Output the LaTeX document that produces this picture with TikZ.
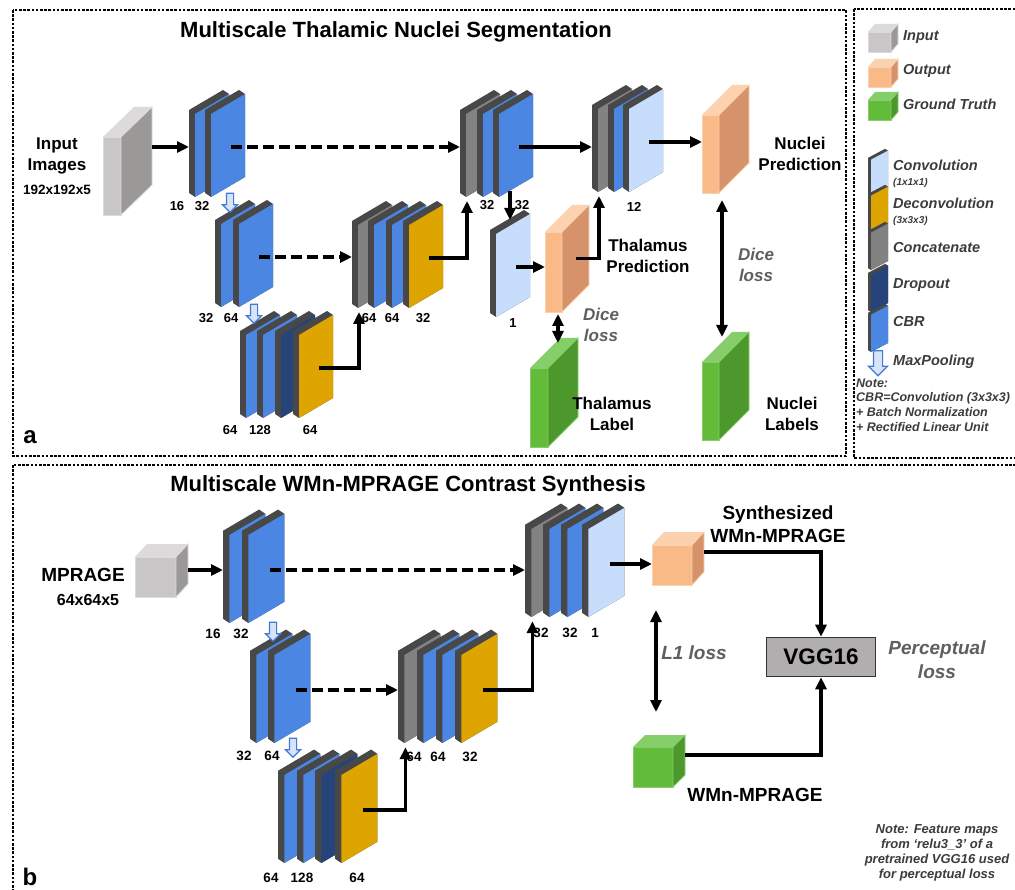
\documentclass[tikz,border=0pt]{standalone}
\usepackage{fontspec}
\setmainfont{Liberation Sans}
\usepackage{tikz}
\usetikzlibrary{arrows.meta,shapes.arrows,calc}
\definecolor{cbr}{RGB}{74,134,226}
\definecolor{edgegray}{RGB}{72,72,72}
\definecolor{concat}{RGB}{130,130,130}
\definecolor{drop}{RGB}{38,68,122}
\definecolor{deconv}{RGB}{222,165,0}
\definecolor{conv}{RGB}{198,222,252}
\definecolor{inF}{RGB}{200,198,198}
\definecolor{inS}{RGB}{155,152,152}
\definecolor{inT}{RGB}{220,218,218}
\definecolor{outF}{RGB}{250,186,135}
\definecolor{outS}{RGB}{214,146,106}
\definecolor{outT}{RGB}{252,210,174}
\definecolor{gtF}{RGB}{98,188,58}
\definecolor{gtS}{RGB}{76,152,44}
\definecolor{gtT}{RGB}{134,206,106}
\definecolor{poolblue}{RGB}{66,120,214}
\definecolor{poolfill}{RGB}{214,228,248}
\definecolor{lossgray}{RGB}{95,95,95}
\definecolor{leggray}{RGB}{60,60,60}
\definecolor{vggfill}{RGB}{176,174,174}
\tikzset{
  arr/.style={-{Triangle[length=12pt,width=11pt]}, line width=3.2pt},
  dasharr/.style={arr, dash pattern=on 11pt off 5pt},
  darr/.style={{Triangle[length=12pt,width=11pt]}-{Triangle[length=12pt,width=11pt]}, line width=3.2pt},
  panel/.style={line width=2.6pt, dash pattern=on 2.6pt off 1.6pt},
  title/.style={font=\fontsize{22}{24}\selectfont\bfseries},
  lbl/.style={align=center, font=\fontsize{17}{21}\selectfont\bfseries},
  lblb/.style={align=center, font=\fontsize{19}{23}\selectfont\bfseries},
  dim/.style={font=\fontsize{13.5}{15}\selectfont\bfseries},
  num/.style={font=\fontsize{13}{14}\selectfont\bfseries, inner sep=0pt},
  loss/.style={align=center, text=lossgray, font=\fontsize{17}{21}\selectfont\bfseries\itshape},
  tag/.style={font=\fontsize{24}{26}\selectfont\bfseries},
  leg/.style={anchor=west, inner sep=0pt, text=leggray, font=\fontsize{14.5}{16}\selectfont\bfseries\itshape},
  legs/.style={anchor=west, inner sep=0pt, text=leggray, font=\fontsize{10}{11}\selectfont\bfseries\itshape},
  note/.style={align=center, text=leggray, font=\fontsize{13}{15}\selectfont\bfseries\itshape},
  vggbox/.style={draw=black!80, line width=1.6pt, fill=vggfill, minimum width=109pt,
                 minimum height=39pt, font=\fontsize{22.5}{24}\selectfont\bfseries},
  pool/.style={single arrow, draw=poolblue, fill=poolfill, line width=1.2pt,
               shape border rotate=270, minimum height=19pt, inner sep=3pt,
               single arrow head extend=4pt, single arrow head indent=0pt},
  pics/plate/.style={code={
    \fill[edgegray] (0,-4) -- (0,-87) -- (34,-107) -- (40,-103) -- (40,-20) -- (6,0) -- cycle;
    \fill[#1] (6,0) -- (6,-83) -- (40,-103) -- (40,-20) -- cycle;
    \coordinate (-w) at (0,-45);
    \coordinate (-c) at (26,-50);
    \coordinate (-s) at (7,4);
    \coordinate (-b) at (17,-6);
    \coordinate (-n) at (20,-97);
  }},
  pics/vol/.style n args={5}{code={
    \fill[#1F, draw=#1T, line width=.8pt] (0,0) rectangle (#2,-#3);
    \fill[#1S, draw=#1T, line width=.8pt] (#2,0) -- ++(#4,-#5) -- ++(0,-#3) -- (#2,-#3) -- cycle;
    \fill[#1T] (0,-#3) -- ++(#4,-#5) -- ++(#2,0) -- (#2,-#3) -- cycle;
    \coordinate (-w) at (0,-#3/2);
    \coordinate (-e) at (#2+#4,-#5-#3/2);
    \coordinate (-m) at (#2+#4/2,-#5/2-#3/2);
  }},
}
\begin{document}
\begin{tikzpicture}[x=1pt, y=-1pt]
  \useasboundingbox (0,0) rectangle (1015,890);
  \clip (0,0) rectangle (1015,890);
  \fill[white] (0,0) rectangle (1015,890);
  \draw[panel] (13,10) rectangle (846,456);
  \draw[panel] (854,9) rectangle (1019,458);
  \draw[panel] (13,465) rectangle (1019,895);

  % (a) thalamic nuclei segmentation
  \node[title] (ttla) at (396,32) {Multiscale Thalamic Nuclei Segmentation};
  \pic (inA) at (103,215) {vol={in}{18}{78}{31}{30}};
  \node[lbl] (inlbl) at (57,156) {Input\\Images};
  \node[dim] (insz) at (57,190) {192x192x5};

  \pic (e1a) at (189,197) {plate=cbr};
  \pic (e1b) at (205,197) {plate=cbr};
  \pic (e2a) at (215,307) {plate=cbr};
  \pic (e2b) at (233,307) {plate=cbr};
  \pic (e3a) at (240,418) {plate=cbr};
  \pic (e3b) at (257,418) {plate=cbr};
  \pic (e3c) at (275,418) {plate=drop};
  \pic (e3d) at (293,418) {plate=deconv};
  \pic (d2a) at (352,308) {plate=concat};
  \pic (d2b) at (368,308) {plate=cbr};
  \pic (d2c) at (386,308) {plate=cbr};
  \pic (d2d) at (403,308) {plate=deconv};
  \pic (d1a) at (460,197) {plate=concat};
  \pic (d1b) at (477,197) {plate=cbr};
  \pic (d1c) at (493,197) {plate=cbr};
  \pic (th1) at (490,317) {plate=conv};
  \pic (o2a) at (592,192) {plate=concat};
  \pic (o2b) at (608,192) {plate=cbr};
  \pic (o2c) at (623,192) {plate=conv};

  \pic (tp) at (545,312) {vol={out}{17}{80}{27}{27}};
  \pic (np) at (702,193) {vol={out}{17}{78}{30}{30}};
  \pic (tl) at (530,447) {vol={gt}{18}{79}{30}{30}};
  \pic (nl) at (702,440) {vol={gt}{17}{78}{30}{30}};

  \node[pool] (mp1) at (230,201) {};
  \node[pool] (mp2) at (254,312) {};

  \foreach \px/\py/\t [count=\i] in {177/206/16, 202/206/32, 206/318/32, 231/318/64,
      230/430/64, 260/430/128, 310/430/64, 369/318/64, 392/318/64, 423/318/32,
      487/205/32, 522/205/32, 513/323/1, 634/207/12}
    \node[num] (na\i) at (\px,\py) {\t};

  \draw[arr] (inA-e |- e1a-c) -- (e1a-w |- e1a-c);
  \draw[dasharr] (e1b-c) -- (e1b-c -| d1a-w);
  \draw[dasharr] (e2b-c) -- (e2b-c -| d2a-w);
  \draw[arr] (e3d-c) -| (d2a-s);
  \draw[arr] (d2d-c) -| (d1a-s);
  \draw[arr] (d1c-c) -- (d1c-c -| o2a-w);
  \draw[arr] (d1c-b) -- (d1c-b |- th1-n);
  \draw[arr] (th1-c) -- (th1-c -| tp-w);
  \draw[arr] (tp-m) -| (o2a-s);
  \draw[arr] (o2c-c) -- (o2c-c -| np-w);

  \coordinate (dt1) at (558,314);
  \coordinate (dt2) at (558,343);
  \coordinate (dn1) at (722,200);
  \coordinate (dn2) at (722,337);
  \draw[darr] (dt1) -- (dt2);
  \draw[darr] (dn1) -- (dn2);

  \node[lbl] (tplbl) at (648,256) {Thalamus\\Prediction};
  \node[lbl] (nplbl) at (800,154) {Nuclei\\Prediction};
  \node[lbl] (tllbl) at (612,414) {Thalamus\\Label};
  \node[lbl] (nllbl) at (792,414) {Nuclei\\Labels};
  \node[loss] (dice1) at (601,325) {Dice\\loss};
  \node[loss] (dice2) at (756,265) {Dice\\loss};
  \node[tag] (taga) at (30,437) {a};

  % legend
  \pic (lgin) at (868,52) {vol={in}{23}{20}{7}{8}};
  \pic (lgout) at (868,87) {vol={out}{23}{20}{7}{8}};
  \pic (lggt) at (868,120) {vol={gt}{23}{20}{7}{8}};
  \node[leg] (tin) at (903,37) {Input};
  \node[leg] (tout) at (903,71) {Output};
  \node[leg] (tgt) at (903,104) {Ground Truth};
  \pic[xscale=.5, yscale=.45] (lgconv) at (868,197) {plate=conv};
  \pic[xscale=.5, yscale=.45] (lgdeconv) at (868,233) {plate=deconv};
  \pic[xscale=.5, yscale=.45] (lgcat) at (868,270) {plate=concat};
  \pic[xscale=.5, yscale=.45] (lgdrop) at (868,312) {plate=drop};
  \pic[xscale=.5, yscale=.45] (lgcbr) at (868,352) {plate=cbr};
  \node[pool, minimum height=25pt, inner sep=4pt, single arrow head extend=5pt] (mplg) at (878,361) {};
  \node[leg] (tconv) at (893,165) {Convolution};
  \node[legs] (tconvk) at (893,183) {(1x1x1)};
  \node[leg] (tdeconv) at (893,203) {Deconvolution};
  \node[legs] (tdeconvk) at (893,221) {(3x3x3)};
  \node[leg] (tcat) at (893,248) {Concatenate};
  \node[leg] (tdrop) at (893,285) {Dropout};
  \node[leg] (tcbr) at (893,322) {CBR};
  \node[leg] (tpool) at (893,362) {MaxPooling};
  \node[leg, font=\fontsize{12.5}{14.6}\selectfont\bfseries\itshape, align=left] (tnote) at (856,405)
    {Note:\\CBR=Convolution (3x3x3)\\+ Batch Normalization\\+ Rectified Linear Unit};

  % (b) contrast synthesis
  \node[title] (ttlb) at (408,486) {Multiscale WMn-MPRAGE Contrast Synthesis};
  \pic (inB) at (135,597) {vol={in}{41}{40}{12}{13}};
  \node[lblb] (mplbl) at (83,575) {MPRAGE};
  \node[dim, font=\fontsize{16}{18}\selectfont\bfseries] (mpsz) at (88,600) {64x64x5};

  \pic[scale=1.06] (f1a) at (223,623) {plate=cbr};
  \pic[scale=1.06] (f1b) at (242,623) {plate=cbr};
  \pic[scale=1.06] (f2a) at (250,743) {plate=cbr};
  \pic[scale=1.06] (f2b) at (268,743) {plate=cbr};
  \pic[scale=1.06] (f3a) at (278,863) {plate=cbr};
  \pic[scale=1.06] (f3b) at (297,863) {plate=cbr};
  \pic[scale=1.06] (f3c) at (315,863) {plate=drop};
  \pic[scale=1.06] (f3d) at (335,863) {plate=deconv};
  \pic[scale=1.06] (g2a) at (398,743) {plate=concat};
  \pic[scale=1.06] (g2b) at (417,743) {plate=cbr};
  \pic[scale=1.06] (g2c) at (436,743) {plate=cbr};
  \pic[scale=1.06] (g2d) at (455,743) {plate=deconv};
  \pic[scale=1.06] (g1a) at (525,617) {plate=concat};
  \pic[scale=1.06] (g1b) at (543,617) {plate=cbr};
  \pic[scale=1.06] (g1c) at (561,617) {plate=cbr};
  \pic[scale=1.06] (g1d) at (582,617) {plate=conv};

  \pic (sy) at (652,585) {vol={out}{40}{40}{12}{13}};
  \pic (wm) at (633,787) {vol={gt}{40}{40}{12}{12}};

  \node[pool] (mp3) at (273,630) {};
  \node[pool] (mp4) at (293,746) {};

  \foreach \px/\py/\t [count=\i] in {213/634/16, 241/634/32, 244/756/32, 272/756/64,
      271/878/64, 302/878/128, 357/878/64, 414/757/64, 438/757/64, 470/757/32,
      541/633/32, 570/633/32, 595/633/1}
    \node[num, font=\fontsize{13.5}{15}\selectfont\bfseries] (nb\i) at (\px,\py) {\t};

  \draw[arr] (inB-e |- f1a-c) -- (f1a-w |- f1a-c);
  \draw[dasharr] (f1b-c) -- (f1b-c -| g1a-w);
  \draw[dasharr] (f2b-c) -- (f2b-c -| g2a-w);
  \draw[arr] (f3d-c) -| (g2a-s);
  \draw[arr] (g2d-c) -| (g1a-s);
  \draw[arr] (g1d-c) -- (g1d-c -| sy-w);

  \node[vggbox] (vgg) at (821,657) {VGG16};
  \draw[arr] (sy-e) -| (vgg.north);
  \draw[arr] (wm-e) -| (vgg.south);
  \coordinate (l1a) at (656,610);
  \coordinate (l1b) at (656,712);
  \draw[darr] (l1a) -- (l1b);

  \node[lblb] (sylbl) at (778,524) {Synthesized\\WMn-MPRAGE};
  \node[lblb] (wmlbl) at (755,795) {WMn-MPRAGE};
  \node[loss, font=\fontsize{19}{24}\selectfont\bfseries\itshape] (l1lbl) at (694,653) {L1 loss};
  \node[loss, font=\fontsize{19}{24}\selectfont\bfseries\itshape] (perc) at (937,660) {Perceptual\\loss};
  \node[note] (noteb) at (937,853)
    {Note: Feature maps\\from `relu3\_3' of a\\pretrained VGG16 used\\for perceptual loss};
  \node[tag] (tagb) at (30,877) {b};
\end{tikzpicture}
\end{document}
